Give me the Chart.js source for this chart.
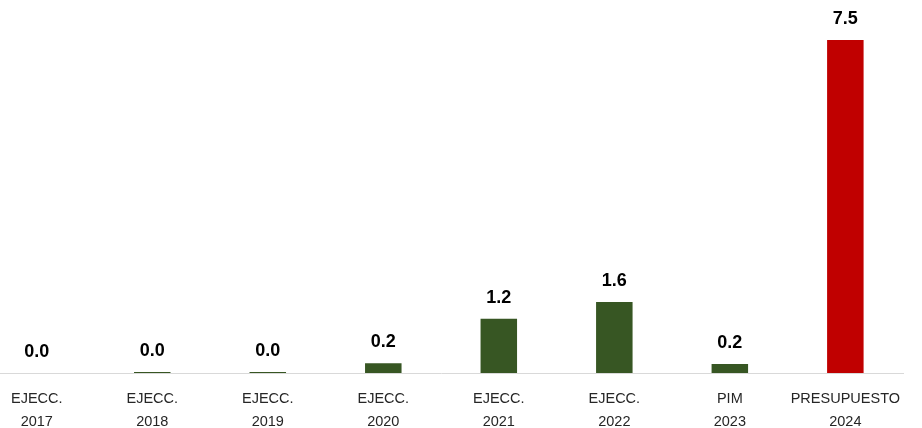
<!DOCTYPE html>
<html>
<head>
<meta charset="utf-8">
<script src="https://cdn.jsdelivr.net/npm/chart.js@4"></script>
<style>
    html, body { margin: 0; padding: 0; background: #fff; overflow: hidden; }
    body { width: 922px; height: 428px; position: relative; }
    #wrap { position: absolute; left: -21px; top: 0; width: 927px; height: 428px; }
</style>
</head>
<body>
<div id="wrap"><canvas id="chart"></canvas></div>
<script>
// datos del gráfico (millones)
const categories = [
    ['EJECC.', '2017'], ['EJECC.', '2018'], ['EJECC.', '2019'], ['EJECC.', '2020'],
    ['EJECC.', '2021'], ['EJECC.', '2022'], ['PIM', '2023'], ['PRESUPUESTO', '2024']
];
const values = [0, 0.02, 0.02, 0.22, 1.22, 1.6, 0.2, 7.5];
const barColors = ['#375623', '#375623', '#375623', '#375623', '#375623', '#375623', '#375623', '#C00000'];

// etiquetas de valor encima de cada barra
const valueLabels = {
    id: 'valueLabels',
    afterDatasetsDraw(chart) {
        const ctx = chart.ctx;
        const meta = chart.getDatasetMeta(0);
        ctx.save();
        ctx.font = 'bold 18px "Liberation Sans", Arial, sans-serif';
        ctx.fillStyle = '#000';
        ctx.textAlign = 'center';
        ctx.textBaseline = 'alphabetic';
        meta.data.forEach((bar, i) => {
            ctx.fillText(values[i].toFixed(1), bar.x, bar.y - 16);
        });
        ctx.restore();
    }
};

new Chart(document.getElementById('chart'), {
    type: 'bar',
    data: {
        labels: categories,
        datasets: [{
            data: values,
            backgroundColor: barColors,
            borderWidth: 0,
            barPercentage: 0.316,
            categoryPercentage: 1
        }]
    },
    options: {
        responsive: true,
        maintainAspectRatio: false,
        animation: false,
        layout: { padding: 0 },
        plugins: {
            legend: { display: false },
            tooltip: { enabled: false }
        },
        scales: {
            x: {
                grid: { display: false },
                border: { display: true, color: '#d9d9d9', width: 1 },
                ticks: {
                    color: '#262626',
                    padding: 6,
                    maxRotation: 0,
                    autoSkip: false,
                    font: { family: '"Liberation Sans", Arial, sans-serif', size: 14.5, lineHeight: 1.6 }
                },
                afterFit: (scale) => { scale.height = 55; }
            },
            y: {
                display: false,
                min: 0,
                max: 8.4
            }
        }
    },
    plugins: [valueLabels]
});
</script>
</body>
</html>
